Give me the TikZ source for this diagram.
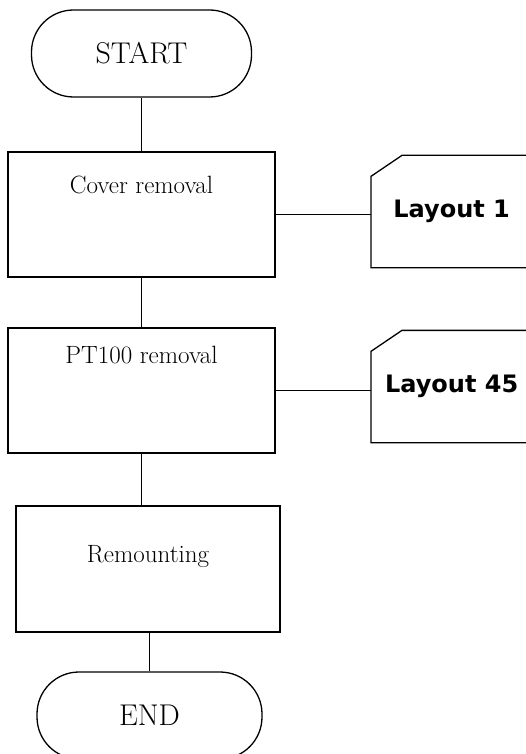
\documentclass[tikz,border=0pt]{standalone}
\usepackage{fontspec}
\newfontfamily\layfont{DejaVu Sans}
\usetikzlibrary{positioning}

\tikzset{
  terminal/.style={draw, rounded corners=42pt, minimum width=220pt, minimum height=87pt, font=\fontsize{30}{36}\selectfont},
  stepbox/.style={draw, minimum width=267pt, minimum height=125pt},
  steptext/.style={font=\fontsize{25}{30}\selectfont, inner sep=0pt},
  layout/.style={minimum width=160pt, minimum height=111pt, font=\layfont\bfseries\fontsize{24}{28}\selectfont},
}

\begin{document}
\begin{tikzpicture}[x=1pt, y=-1pt, line width=1.3pt]
    \useasboundingbox (0,0) rectangle (525,754);

    % Start and end
    \node[terminal] (start) at (141.5,53.5) {START};
    \node[terminal, minimum width=225pt] (stop) at (149.5,715.5) {END};

    % Steps
    \node[stepbox] (cover) at (141.5,214.5) {};
    \node[steptext] (covertxt) at ([yshift=-34pt]cover.north) {Cover removal};
    \node[stepbox] (pt) at (141.5,390.5) {};
    \node[steptext] (pttxt) at ([yshift=-28pt]pt.north) {PT100 removal};
    \node[stepbox, minimum width=264pt, minimum height=126pt] (remount) at (148,569) {};
    \node[steptext] (remounttxt) at ([yshift=-51pt]remount.north) {Remounting};

    % Layout references
    \node[layout, anchor=west] (lay1) at (371,211.5) {Layout 1};
    \draw (lay1.south east) -- (lay1.south west) -- ([yshift=-21pt]lay1.north west)
        -- ([xshift=31pt]lay1.north west) -- (lay1.north east);
    \node[layout, anchor=west] (lay45) at (371,386.5) {Layout 45};
    \draw (lay45.south east) -- (lay45.south west) -- ([yshift=-21pt]lay45.north west)
        -- ([xshift=31pt]lay45.north west) -- (lay45.north east);

    % Connectors
    \draw (start.south) -- (cover.north);
    \draw (cover.south) -- (pt.north);
    \draw (pt.south) -- (pt.south |- remount.north);
    \draw (stop.north |- remount.south) -- (stop.north);
    \draw (cover.east) -- (cover.east -| lay1.west);
    \draw (pt.east) -- (pt.east -| lay45.west);
\end{tikzpicture}
\end{document}
